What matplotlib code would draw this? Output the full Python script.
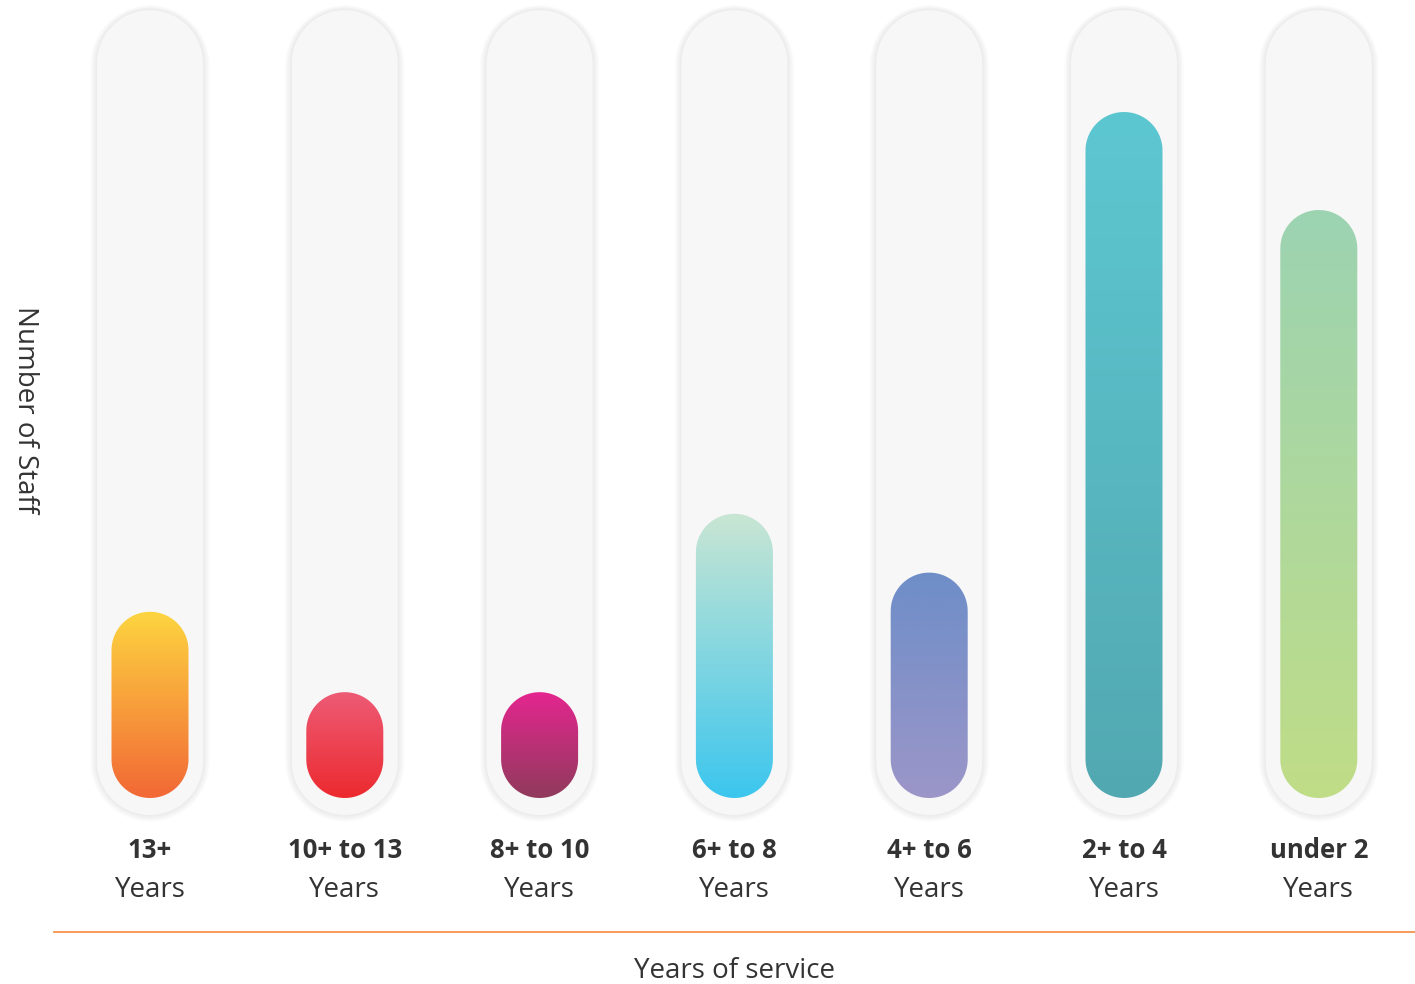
import numpy as np
import matplotlib
matplotlib.use("Agg")
import matplotlib.pyplot as plt
from matplotlib.path import Path
from matplotlib.patches import PathPatch
from matplotlib.colors import LinearSegmentedColormap

# data
ranges = ["13+", "10+ to 13", "8+ to 10", "6+ to 8", "4+ to 6", "2+ to 4", "under 2"]
staff = [19, 10.8, 10.8, 29, 23, 70, 60]
top_colors = ["#fdd540", "#ee5b76", "#e4268f", "#c9e6d3", "#6e8ec8", "#5dc7d1", "#9cd3b2"]
bottom_colors = ["#f26836", "#ec2a2f", "#903b5c", "#3cc6ee", "#9c96c8", "#52a8b1", "#c0dd87"]
track_max = 80.4

plt.rcParams['font.family'] = ['Open Sans', 'DejaVu Sans']

W, H, DPI = 1415, 984, 100
fig = plt.figure(figsize=(W / DPI, H / DPI), dpi=DPI)
fig.patch.set_facecolor("white")

step = 194.8          # px per category
ppu = 9.8             # px per value unit
base_px = 186         # baseline (value 0) from bottom of figure
left_px = 150 - step / 2
ax = fig.add_axes([left_px / W, 150 / H, 7 * step / W, (H - 150) / H])
ax.set_xlim(-0.5, 6.5)
ax.set_ylim((150 - base_px) / ppu, (H - base_px) / ppu)
ax.axis("off")


def pill(xc, y0, y1, w_px, n=40):
    hw = w_px / 2 / step
    ry = w_px / 2 / ppu
    t = np.linspace(0, np.pi, n)
    top = [(xc + hw * np.cos(a), y1 - ry + ry * np.sin(a)) for a in t]
    bot = [(xc - hw * np.cos(a), y0 + ry - ry * np.sin(a)) for a in t]
    verts = top + bot + [top[0]]
    codes = [Path.MOVETO] + [Path.LINETO] * (len(verts) - 2) + [Path.CLOSEPOLY]
    return Path(verts, codes)


def y_of(px_from_top):
    return ((H - px_from_top) - base_px) / ppu


grad = np.linspace(0, 1, 256).reshape(-1, 1)
trk_lo = -17 / ppu

for i, v in enumerate(staff):
    # soft shadow around the track
    for k in range(10, 0, -1):
        sp = pill(i, trk_lo - k * 0.7 / ppu, track_max + k * 0.5 / ppu, 106 + 1.4 * k)
        ax.add_patch(PathPatch(sp, facecolor="#000000", edgecolor="none", alpha=0.009))
    ax.add_patch(PathPatch(pill(i, trk_lo, track_max, 106), facecolor="#f7f7f7",
                           edgecolor="none"))

    # gradient bar
    bp = PathPatch(pill(i, 0, v, 77), facecolor="none", edgecolor="none",
                   transform=ax.transData)
    ax.add_patch(bp)
    cmap = LinearSegmentedColormap.from_list("g%d" % i, [bottom_colors[i], top_colors[i]])
    hw = 40 / step
    im = ax.imshow(grad, cmap=cmap, origin="lower", aspect="auto",
                   extent=[i - hw, i + hw, 0, v], zorder=3, interpolation="bilinear")
    im.set_clip_path(bp)

    # labels
    ax.text(i, y_of(851), ranges[i], ha="center", va="center",
            fontsize=18.5, fontweight="bold", color="#333333")
    ax.text(i, y_of(890), "Years", ha="center", va="center",
            fontsize=20, color="#333333")

ax.set_xlim(-0.5, 6.5)

# orange rule and axis titles
fig.add_artist(plt.Line2D([54 / W, 1.0], [(H - 932) / H] * 2, color="#f58a3c", lw=1.2))
fig.text(735 / W, (H - 971) / H, "Years of service", ha="center", va="center",
         fontsize=20, color="#333333")
fig.text(25 / W, (H - 410) / H, "Number of Staff", ha="center", va="center",
         rotation=270, fontsize=20, color="#333333")

fig.savefig("out.png", dpi=DPI)
